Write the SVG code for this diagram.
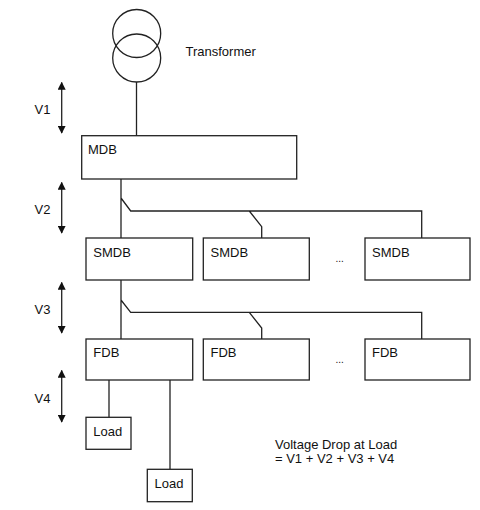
<svg xmlns="http://www.w3.org/2000/svg" width="480" height="510" viewBox="0 0 480 510">
<defs>
<style>
.box{fill:#fff;stroke:#222;stroke-width:1.3}
.ln{fill:none;stroke:#222;stroke-width:1.3}
text{font-family:"Liberation Sans",Arial,sans-serif;font-size:13px;fill:#111}
</style>
<marker id="ah" viewBox="0 0 10 10" refX="9" refY="5" markerWidth="8" markerHeight="8" markerUnits="userSpaceOnUse" orient="auto-start-reverse">
<path d="M0,0 L10,5 L0,10 Z" fill="#111"/>
</marker>
</defs>
<rect width="480" height="510" fill="#fff"/>
<g id="connectors">
<line class="ln" x1="136.5" y1="82" x2="136.5" y2="136"/>
<path class="ln" d="M121,179 V238 M121,198 L130.7,211 H421.7 V238 M249.3,211 L261.7,226.7 V238"/>
<path class="ln" d="M121,280 V339 M121,300 L130.7,312.3 H421.7 V339 M249.3,312.3 L261.7,328 V339"/>
<path class="ln" d="M109,380 V417.3 M170,380 V469.3"/>
</g>
<g id="transformer">
<circle class="ln" cx="136.7" cy="33.5" r="24"/>
<circle class="ln" cx="136.7" cy="58" r="24"/>
<text x="185.5" y="56">Transformer</text>
</g>
<g id="v1">
<line class="ln" x1="61.7" y1="82.5" x2="61.7" y2="133" marker-start="url(#ah)" marker-end="url(#ah)"/>
<text x="34.5" y="114">V1</text>
</g>
<g id="v2">
<line class="ln" x1="61.7" y1="182.5" x2="61.7" y2="233" marker-start="url(#ah)" marker-end="url(#ah)"/>
<text x="34.5" y="214">V2</text>
</g>
<g id="v3">
<line class="ln" x1="61.7" y1="282.5" x2="61.7" y2="333" marker-start="url(#ah)" marker-end="url(#ah)"/>
<text x="34.5" y="314">V3</text>
</g>
<g id="v4">
<line class="ln" x1="61.7" y1="370.5" x2="61.7" y2="422" marker-start="url(#ah)" marker-end="url(#ah)"/>
<text x="34.5" y="402.5">V4</text>
</g>
<g id="mdb">
<rect class="box" x="81.7" y="135.7" width="215" height="43.3"/>
<text x="88" y="154">MDB</text>
</g>
<g id="smdb1">
<rect class="box" x="86" y="238" width="106.7" height="42"/>
<text x="93.3" y="256.5">SMDB</text>
</g>
<g id="smdb2">
<rect class="box" x="203.3" y="238" width="106" height="42"/>
<text x="210.5" y="256.5">SMDB</text>
</g>
<g id="smdb3">
<rect class="box" x="365" y="238" width="105" height="42"/>
<text x="372" y="256.5">SMDB</text>
</g>
<text x="335.5" y="262" style="font-size:10px">...</text>
<g id="fdb1">
<rect class="box" x="86" y="339" width="106.7" height="41"/>
<text x="93.3" y="357">FDB</text>
</g>
<g id="fdb2">
<rect class="box" x="203.3" y="339" width="106" height="41"/>
<text x="210.5" y="357">FDB</text>
</g>
<g id="fdb3">
<rect class="box" x="365" y="339" width="105" height="41"/>
<text x="372" y="357">FDB</text>
</g>
<text x="335.5" y="363" style="font-size:10px">...</text>
<g id="load1">
<rect class="box" x="86" y="417.3" width="45" height="32"/>
<text x="93.3" y="436">Load</text>
</g>
<g id="load2">
<rect class="box" x="147.3" y="469.3" width="45" height="32.4"/>
<text x="154.5" y="488">Load</text>
</g>
<g id="note">
<text x="275" y="448.5">Voltage Drop at Load</text>
<text x="275" y="463">= V1 + V2 + V3 + V4</text>
</g>
</svg>
